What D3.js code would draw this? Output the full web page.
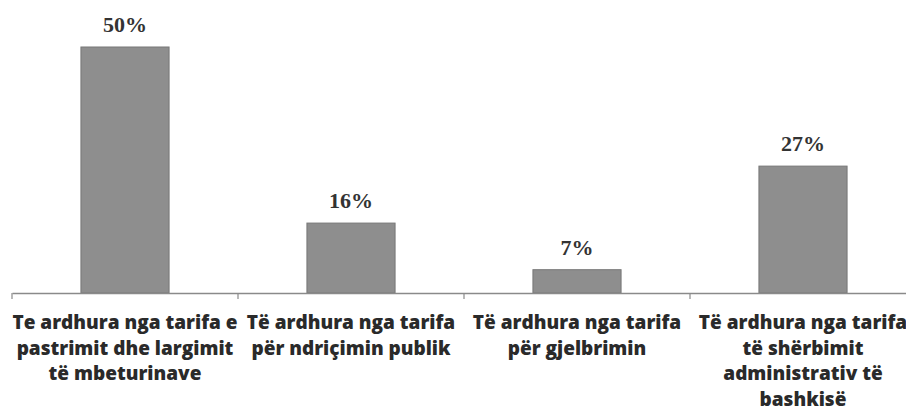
<!DOCTYPE html>
<html>
<head>
<meta charset="utf-8">
<script src="https://cdn.jsdelivr.net/npm/d3@7"></script>
<style>
  html, body { margin: 0; padding: 0; background: #fff; }
  svg { display: block; }
</style>
</head>
<body>
<svg id="chart" width="906" height="419"></svg>
<script>
const categories = [
  "Te ardhura nga tarifa e pastrimit dhe largimit të mbeturinave",
  "Të ardhura nga tarifa për ndriçimin publik",
  "Të ardhura nga tarifa për gjelbrimin",
  "Të ardhura nga tarifa të shërbimit administrativ të bashkisë"
];
const categoryLines = [
  ["Te ardhura nga tarifa e", "pastrimit dhe largimit", "të mbeturinave"],
  ["Të ardhura nga tarifa", "për ndriçimin publik"],
  ["Të ardhura nga tarifa", "për gjelbrimin"],
  ["Të ardhura nga tarifa", "të shërbimit", "administrativ të", "bashkisë"]
];
const values = [50, 16, 7, 27];
const valueLabels = ["50%", "16%", "7%", "27%"];

const svg = d3.select("#chart");
const baseY = 293;

const xOuter = d3.scaleBand().domain(categories).range([12, 916]).padding(0);
const xBar = d3.scaleBand().domain(categories).range([12, 916])
  .paddingInner(0.61).paddingOuter(0.305);
const y = d3.scaleLinear().domain([2.5, 50]).range([baseY, 47]);

// bars
svg.append("g").selectAll("rect")
  .data(values)
  .join("rect")
  .attr("x", (d, i) => xBar(categories[i]))
  .attr("y", d => y(d))
  .attr("width", xBar.bandwidth())
  .attr("height", d => baseY - y(d))
  .attr("fill", "#8e8e8e")
  .attr("stroke", "#777")
  .attr("stroke-width", 1);

// axis
const axis = d3.axisBottom(xOuter).tickSize(0).tickFormat("");
const gAxis = svg.append("g").attr("transform", `translate(0,${baseY})`).call(axis);
gAxis.select(".domain").attr("stroke", "#8a8a8a").attr("stroke-width", 1.5);
const bounds = categories.map(c => xOuter(c)).concat([xOuter.range()[1]]);
gAxis.selectAll("line.bound")
  .data(bounds)
  .join("line")
  .attr("class", "bound")
  .attr("x1", d => d).attr("x2", d => d)
  .attr("y1", 0).attr("y2", 6)
  .attr("stroke", "#8a8a8a").attr("stroke-width", 1.2);

// value labels
svg.append("g").selectAll("text")
  .data(values)
  .join("text")
  .attr("x", (d, i) => xBar(categories[i]) + xBar.bandwidth() / 2)
  .attr("y", d => y(d) - 15)
  .attr("text-anchor", "middle")
  .attr("font-family", "'Liberation Serif', 'Times New Roman', serif")
  .attr("font-weight", "bold")
  .attr("font-size", 22)
  .attr("fill", "#333")
  .text((d, i) => valueLabels[i]);

// category labels
const gl = svg.append("g");
categoryLines.forEach((lines, i) => {
  const cx = xOuter(categories[i]) + xOuter.bandwidth() / 2;
  const t = gl.append("text")
    .attr("text-anchor", "middle")
    .attr("font-family", "'Open Sans', sans-serif")
    .attr("font-weight", 800)
    .attr("font-size", 19)
    .attr("fill", "#2a2a2a");
  lines.forEach((ln, j) => {
    t.append("tspan").attr("x", cx).attr("y", 329 + j * 25.5).text(ln);
  });
});
</script>
</body>
</html>
